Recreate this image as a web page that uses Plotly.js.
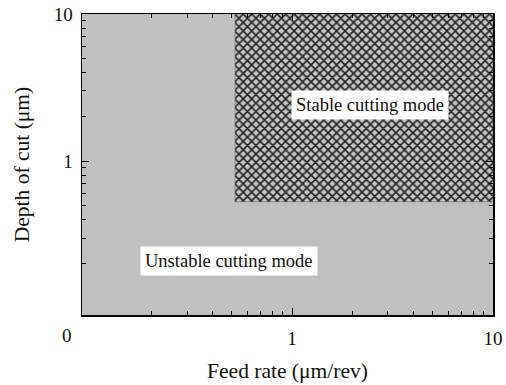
<!DOCTYPE html>
<html><head><meta charset="utf-8">
<script src="https://cdn.plot.ly/plotly-3.0.1.min.js"></script>
<style>html,body{margin:0;padding:0;background:#fff}#c{width:506px;height:385px}</style>
</head><body><div id="c"></div>
<script>
// Stable region boundary (feed rate µm/rev, depth of cut µm)
const stableX = [0.52, 10, 10, 0.52, 0.52];
const stableY = [0.53, 0.53, 10, 10, 0.53];
// Axis ranges
const xMin = 0.09, xMax = 10;
const yMin = 0.09, yMax = 10;
// Tick labels
const xMajor = [1, 10];
const yMajor = [1, 10];
const minorVals = [0.2,0.3,0.4,0.5,0.6,0.7,0.8,0.9,2,3,4,5,6,7,8,9];
const regionLabels = ["Stable cutting mode", "Unstable cutting mode"];
const labelX = [2.44, 0.486];
const labelY = [2.4, 0.209];

const font = "Liberation Serif, Times New Roman, serif";
const axisCommon = {
  type: 'log', showgrid: false, zeroline: false, showline: true, linecolor: '#000', linewidth: 1.5,
  mirror: 'allticks', ticks: 'inside', ticklen: 7, tickwidth: 1.2, tickcolor: '#000',
  tickmode: 'array', tickfont: {family: font, size: 19, color: '#111'},
  minor: {tickmode: 'array', tickvals: minorVals, ticks: 'inside', ticklen: 4, tickwidth: 1, tickcolor: '#000', showgrid: false}
};
const data = [{
  x: stableX, y: stableY, type: 'scatter', mode: 'lines', fill: 'toself',
  fillcolor: '#c0c0c0',
  fillpattern: {shape: 'x', size: 6, solidity: 0.45, fgcolor: '#222', bgcolor: '#c4c4c4'},
  line: {width: 0.5, color: '#555'}, hoverinfo: 'skip', showlegend: false
}];
const layout = {
  width: 506, height: 385,
  margin: {l: 82, r: 13, t: 14, b: 70},
  paper_bgcolor: '#fff', plot_bgcolor: '#c0c0c0',
  showlegend: false,
  xaxis: Object.assign({}, axisCommon, {
    range: [Math.log10(xMin), Math.log10(xMax)], tickvals: xMajor, ticktext: xMajor.map(String),
    ticklabelstandoff: 6,
    title: {text: 'Feed rate (μm/rev)', font: {family: font, size: 21.5, color: '#111'}, standoff: 14}
  }),
  yaxis: Object.assign({}, axisCommon, {
    range: [Math.log10(yMin), Math.log10(yMax)], tickvals: yMajor, ticktext: yMajor.map(String),
    ticklabelstandoff: 4,
    title: {text: 'Depth of cut (μm)', font: {family: font, size: 21.5, color: '#111'}, standoff: 18}
  }),
  annotations: [
    {x: Math.log10(labelX[0]), y: Math.log10(labelY[0]), xref: 'x', yref: 'y', text: regionLabels[0], showarrow: false,
     bgcolor: '#fff', borderpad: 4, font: {family: font, size: 18.5, color: '#111'}},
    {x: Math.log10(labelX[1]), y: Math.log10(labelY[1]), xref: 'x', yref: 'y', text: regionLabels[1], showarrow: false,
     bgcolor: '#fff', borderpad: 4, font: {family: font, size: 18.5, color: '#111'}},
    {x: 0, y: 0, xref: 'paper', yref: 'paper', xanchor: 'center', yanchor: 'middle', text: '0', showarrow: false,
     font: {family: font, size: 19, color: '#111'}}
  ]
};
// place the "0" label (pixel position) in paper coords
const pw = 506 - 82 - 13, ph = 385 - 14 - 70;
layout.annotations[2].x = (67 - 82) / pw;
layout.annotations[2].y = (315 - 335) / ph;
Plotly.newPlot('c', data, layout, {displayModeBar: false, staticPlot: true});
</script></body></html>
